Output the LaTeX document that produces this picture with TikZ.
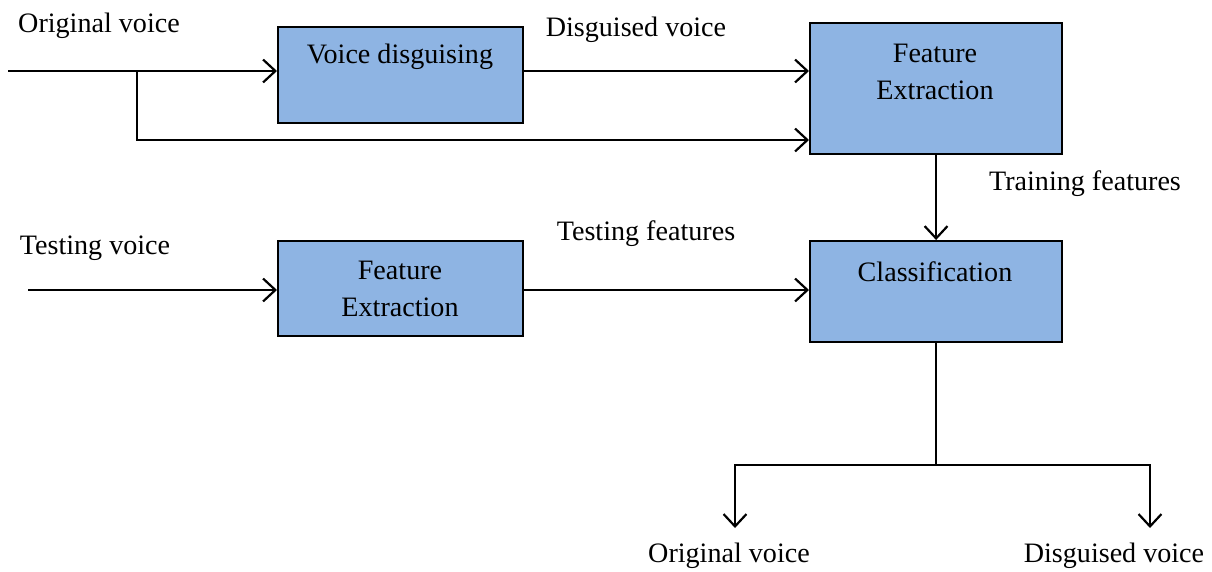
\documentclass[tikz,border=0pt]{standalone}
\usepackage{fontspec}
\setmainfont{Liberation Serif}
\usetikzlibrary{arrows.meta}
\definecolor{boxblue}{RGB}{142,180,227}
\begin{document}
\fontsize{16pt}{21pt}\selectfont
\begin{tikzpicture}[x=0.02cm, y=-0.02cm, line width=1.25pt, >={Straight Barb[length=7pt,width=13pt]},
    blockbox/.style={draw, fill=boxblue, anchor=north west, inner sep=0pt},
    txt/.style={align=center, inner sep=0pt}]
    \useasboundingbox (0,0) rectangle (1212,571);
    % boxes
    \node[blockbox, minimum width=4.9cm, minimum height=1.92cm] (vd) at (277,26) {};
    \node[blockbox, minimum width=5.04cm, minimum height=2.62cm] (fe1) at (809,22) {};
    \node[blockbox, minimum width=4.9cm, minimum height=1.9cm] (fe2) at (277,240) {};
    \node[blockbox, minimum width=5.04cm, minimum height=2.02cm] (cls) at (809,240) {};
    \node[txt] (vdtxt) at (400,57) {Voice disguising};
    \node[txt] (fe1txt) at (935,72) {Feature\\Extraction};
    \node[txt] (fe2txt) at (400,289) {Feature\\Extraction};
    \node[txt] (clstxt) at (935,272) {Classification};
    % labels
    \node[txt] (origin) at (99,26) {Original voice};
    \node[txt] (disg) at (636,30) {Disguised voice};
    \node[txt] (train) at (1085,184) {Training features};
    \node[txt] (testin) at (95,248) {Testing voice};
    \node[txt] (testf) at (646,234) {Testing features};
    \node[txt] (outorig) at (729,556) {Original voice};
    \node[txt] (outdisg) at (1114,556) {Disguised voice};
    % connectors
    \coordinate (inA) at (8,71);
    \coordinate (split) at (137,71);
    \coordinate (low) at (137,140);
    \coordinate (inB) at (28,290);
    \coordinate (fork) at (cls.south |- 0,465);
    \coordinate (endA) at (735,528);
    \coordinate (endB) at (1150,528);
    \draw[->] (inA) -- (inA -| vd.west);
    \draw[->] (split) -- (low) -- (low -| fe1.west);
    \draw[->] (vd.east |- inA) -- (inA -| fe1.west);
    \draw[->] (fe1.south) -- (cls.north);
    \draw[->] (inB) -- (inB -| fe2.west);
    \draw[->] (fe2.east |- inB) -- (inB -| cls.west);
    \draw (cls.south) -- (fork);
    \draw[->] (fork) -| (endA);
    \draw[->] (fork) -| (endB);
\end{tikzpicture}
\end{document}
